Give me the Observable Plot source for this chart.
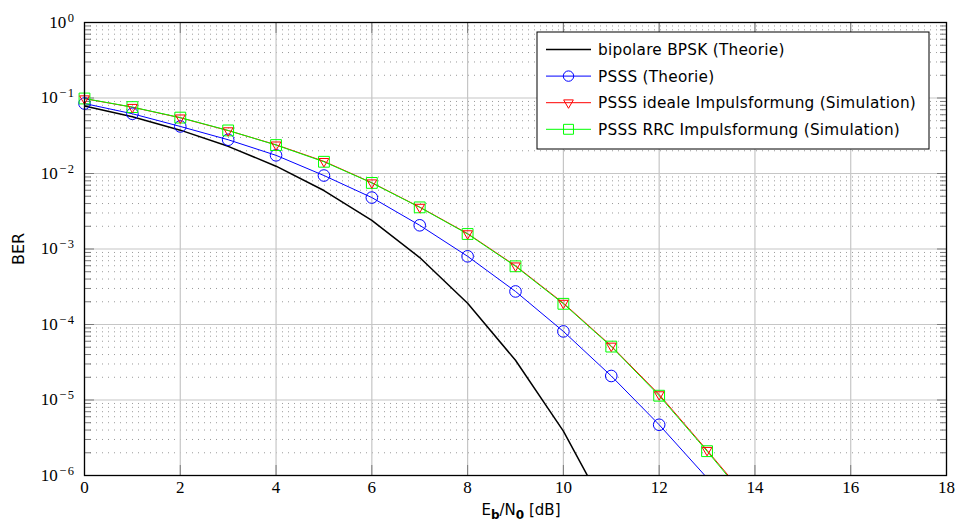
<!DOCTYPE html>
<html><head><meta charset="utf-8">
<script src="https://cdn.jsdelivr.net/npm/d3@7"></script>
<script src="https://cdn.jsdelivr.net/npm/@observablehq/plot@0.6"></script>
<style>body{margin:0;background:#fff}#chart{width:957px;height:525px}</style>
</head><body><div id="chart"></div>
<script>
// ---- data ----
const ebn0 = [0,1,2,3,4,5,6,7,8,9,10,11,12,13,14];
const berBPSK   = [0.0786,0.0563,0.0375,0.0229,0.0125,0.00595,0.00239,7.7e-4,1.91e-4,3.36e-5,3.87e-6,2.6e-7];
const berPSSS   = [0.0845,0.0618,0.042,0.028,0.0174,0.0094,0.0048,0.00206,8.0e-4,2.74e-4,8.1e-5,2.08e-5,4.7e-6,9.3e-7];
const berIdeal  = [0.098,0.0755,0.0547,0.037,0.024,0.0145,0.00755,0.00359,0.0016,6.0e-4,1.92e-4,5.2e-5,1.18e-5,2.16e-6,3.8e-7];
const berRRC    = [0.0985,0.0758,0.055,0.0372,0.0238,0.0143,0.0075,0.00356,0.00158,5.9e-4,1.88e-4,5.1e-5,1.14e-5,2.1e-6,3.6e-7];
const seriesNames = ["bipolare BPSK (Theorie)","PSSS (Theorie)","PSSS ideale Impulsformung (Simulation)","PSSS RRC Impulsformung (Simulation)"];
const xTicks = [0,2,4,6,8,10,12,14,16,18];
const yTicks = [1e-6,1e-5,1e-4,1e-3,1e-2,1e-1,1];
const yExponents = ["−6","−5","−4","−3","−2","−1","0"];
const minorMultipliers = [2,3,4,5,6,7,8,9];
const xLabel = ["E","b","/N","0"," [dB]"];
const yLabel = "BER";

// ---- build ----
const minorY = [];
yTicks.slice(0,-1).forEach(d => minorMultipliers.forEach(k => minorY.push(+(k*d).toPrecision(3))));
const rows = ys => ys.map((y,i) => ({x: ebn0[i], y}));
const inDomain = d => d.y >= 1e-6;
const expOf = new Map(yTicks.map((d,i) => [d, yExponents[i]]));

const W = 957, H = 525, mL = 84, mT = 22, mR = 11, mB = 50;
const gridC = "#c6c6c6", tickC = "#7a7a7a";
const colBPSK = "#000000", colPSSS = "#0000ff", colIdeal = "#ff0000", colRRC = "#00ff00";
const serif = "'Liberation Serif', 'DejaVu Serif', serif";
const sans = "'DejaVu Sans', sans-serif";

const plot = Plot.plot({
  width: W, height: H, marginLeft: mL, marginTop: mT, marginRight: mR, marginBottom: mB,
  x: {domain: [0, 18]},
  y: {type: "log", domain: [1e-6, 1]},
  style: {background: "#fff", color: "#000"},
  marks: [
    Plot.gridY(minorY, {stroke: "#9a9a9a", strokeOpacity: 1, strokeWidth: 1, strokeDasharray: "1,5"}),
    Plot.gridY(yTicks, {stroke: gridC, strokeOpacity: 1, strokeWidth: 1.2}),
    Plot.gridX(xTicks, {stroke: gridC, strokeOpacity: 1, strokeWidth: 1.2}),
    // inward tick marks
    Plot.axisY(minorY, {anchor: "left", tickSize: 7, dx: 7, tickFormat: () => "", label: null, stroke: tickC}),
    Plot.axisY(minorY, {anchor: "right", tickSize: 7, dx: -7, tickFormat: () => "", label: null, stroke: tickC}),
    Plot.axisY(yTicks, {anchor: "left", tickSize: 10, dx: 10, tickFormat: () => "", label: null, stroke: tickC}),
    Plot.axisY(yTicks, {anchor: "right", tickSize: 10, dx: -10, tickFormat: () => "", label: null, stroke: tickC}),
    Plot.axisX(xTicks, {anchor: "bottom", tickSize: 10, dy: -10, tickFormat: () => "", label: null, stroke: tickC}),
    Plot.axisX(xTicks, {anchor: "top", tickSize: 10, dy: 10, tickFormat: () => "", label: null, stroke: tickC}),
    // labels
    Plot.axisX(xTicks, {anchor: "bottom", tickSize: 0, tickPadding: 5, tickFormat: d => String(d), label: null}),
    Plot.axisY(yTicks, {anchor: "left", tickSize: 0, tickPadding: 9, tickFormat: d => "10^" + expOf.get(d), label: null}),
    // series
    Plot.line(rows(berBPSK), {x: "x", y: "y", stroke: colBPSK, strokeWidth: 1.5, clip: true}),
    Plot.line(rows(berPSSS), {x: "x", y: "y", stroke: colPSSS, strokeWidth: 1, clip: true}),
    Plot.line(rows(berIdeal), {x: "x", y: "y", stroke: colIdeal, strokeWidth: 1, clip: true}),
    Plot.line(rows(berRRC), {x: "x", y: "y", stroke: colRRC, strokeWidth: 1, clip: true}),
    Plot.dot(rows(berPSSS).filter(inDomain), {x: "x", y: "y", symbol: "circle", r: 5.8, stroke: colPSSS, fill: "none", strokeWidth: 1}),
    Plot.dot(rows(berRRC).filter(inDomain), {x: "x", y: "y", symbol: "square", r: 6.1, stroke: colRRC, fill: "none", strokeWidth: 1}),
    Plot.dot(rows(berIdeal).filter(inDomain), {x: "x", y: "y", symbol: "triangle", r: 3.6, rotate: 180, stroke: colIdeal, fill: "none", strokeWidth: 1}),
    Plot.frame({stroke: "#000", strokeWidth: 1.3})
  ]
});

const svg = d3.select(plot);
// serif tick labels (styled per text element), superscripts for y tick labels
svg.selectAll('g[aria-label="x-axis tick label"] text').each(function () {
  d3.select(this).style("font-family", serif).style("font-size", "17px").style("font-variant", "normal");
});
svg.selectAll('g[aria-label="y-axis tick label"] text').each(function () {
  const [b, e] = this.textContent.split("^");
  const t = d3.select(this); t.text(null);
  t.style("font-family", serif).style("font-size", "17px").style("font-variant", "normal");
  t.append("tspan").text(b);
  t.append("tspan").attr("dy", "-0.5em").attr("dx", "1.5").style("font-size", "12.5px").style("letter-spacing", "1.5px").text(e);
});

// axis titles
const xt = svg.append("text").attr("x", (mL + W - mR) / 2 + 6).attr("y", 515).attr("text-anchor", "middle")
  .style("font-family", sans).style("font-size", "15px").attr("fill", "#000");
xLabel.forEach((s, i) => {
  const sp = xt.append("tspan").text(s);
  if (i === 1 || i === 3) sp.attr("dy", "4").style("font-size", "12px").attr("font-weight", "bold");
  else if (i > 0) sp.attr("dy", "-4");
});
svg.append("text").attr("transform", "translate(24,249) rotate(-90)").attr("text-anchor", "middle")
  .style("font-family", sans).style("font-size", "16px").attr("fill", "#000").text(yLabel);

// legend
const lg = svg.append("g");
const lx = 537, ly = 32, lw = 392, lh = 117;
lg.append("rect").attr("x", lx).attr("y", ly).attr("width", lw).attr("height", lh).attr("fill", "#fff").attr("stroke", "#000").attr("stroke-width", 1);
const legendItems = [
  {name: seriesNames[0], color: colBPSK, sym: null, w: 1.5},
  {name: seriesNames[1], color: colPSSS, sym: d3.symbolCircle, r: 5.2, w: 1},
  {name: seriesNames[2], color: colIdeal, sym: d3.symbolTriangle, r: 3.6, rot: 180, w: 1},
  {name: seriesNames[3], color: colRRC, sym: d3.symbolSquare, r: 5.6, w: 1}
];
legendItems.forEach((it, i) => {
  const y = 49.5 + i * 26.6;
  lg.append("line").attr("x1", 546).attr("x2", 591).attr("y1", y).attr("y2", y).attr("stroke", it.color).attr("stroke-width", it.w);
  if (it.sym) lg.append("path").attr("d", d3.symbol(it.sym, it.r * it.r * Math.PI)())
    .attr("transform", `translate(568.5,${y})` + (it.rot ? ` rotate(${it.rot})` : ""))
    .attr("fill", "none").attr("stroke", it.color).attr("stroke-width", 1);
  lg.append("text").attr("x", 598).attr("y", y).attr("dy", "0.36em").attr("text-anchor", "start")
    .style("font-family", sans).style("font-size", "15.3px").style("letter-spacing", "0.25px").attr("fill", "#000").text(it.name);
});

document.getElementById("chart").appendChild(plot);
</script>
</body></html>
